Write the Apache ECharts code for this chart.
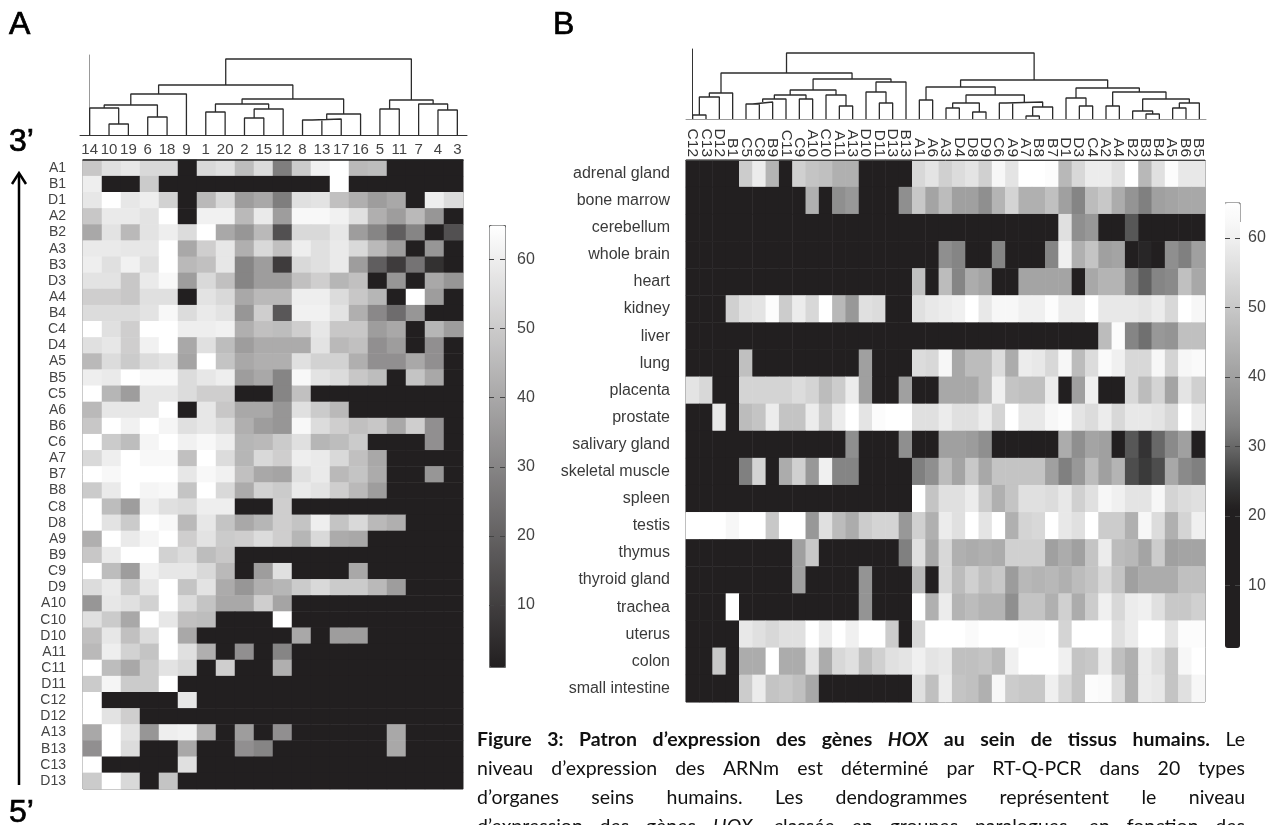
<!DOCTYPE html>
<html><head><meta charset="utf-8">
<style>html,body{margin:0;padding:0;background:#fff;overflow:hidden}#c{width:1279px;height:825px}</style>
<script src="https://cdn.jsdelivr.net/npm/echarts@6/dist/echarts.min.js"></script>
</head><body><div id="c"></div>
<script>
const samplesA=['14','10','19','6','18','9','1','20','2','15','12','8','13','17','16','5','11','7','4','3'];
const genesA=['A1','B1','D1','A2','B2','A3','B3','D3','A4','B4','C4','D4','A5','B5','C5','A6','B6','C6','A7','B7','B8','C8','D8','A9','B9','C9','D9','A10','C10','D10','A11','C11','D11','C12','D12','A13','B13','C13','D13'];
const valuesA=[
[49,56,58,54,54,1,54,56,46,55,28,50,61,65,45,46,1,1,1,1],
[60,1,1,50,1,1,1,1,1,1,1,1,1,65,1,1,1,1,1,1],
[58,65,58,60,52,1,45,54,37,40,28,56,57,47,42,37,40,1,60,55],
[49,59,59,57,65,1,61,61,45,59,37,63,63,61,56,42,37,45,35,1],
[40,57,45,57,60,55,65,40,35,45,15,54,54,58,37,30,19,30,1,15],
[59,59,58,58,65,40,51,58,42,54,47,60,56,59,54,45,37,1,35,1],
[60,56,61,56,65,45,47,58,30,37,9,54,56,59,37,19,9,25,6,1],
[57,57,49,59,63,37,54,47,30,37,37,47,51,44,47,1,35,1,40,35],
[51,51,49,56,56,1,57,54,40,45,45,60,60,55,49,44,1,65,37,1],
[55,55,55,57,63,55,59,57,35,51,17,61,61,57,42,31,23,35,1,1],
[65,56,51,65,65,60,60,61,42,47,46,51,58,49,49,37,40,1,44,37],
[56,58,51,61,65,40,56,46,37,41,41,41,57,45,47,33,37,1,33,1],
[45,55,50,55,57,39,65,48,40,42,42,56,52,52,42,33,33,40,33,1],
[60,59,65,63,63,55,58,60,37,40,30,63,57,55,49,46,1,48,40,1],
[65,44,37,58,58,55,51,51,1,1,30,47,1,1,1,1,1,1,1,1],
[45,58,58,58,65,1,58,49,40,40,35,56,50,45,1,1,1,1,1,1],
[49,65,61,65,62,56,58,55,42,37,35,63,55,51,47,49,40,51,33,1],
[65,50,46,62,65,61,63,60,44,45,50,56,44,46,50,1,1,1,33,1],
[54,60,65,63,63,47,65,55,44,54,51,60,59,54,47,40,1,1,1,1],
[65,63,65,65,65,58,63,61,47,40,39,56,59,45,48,41,1,1,35,1],
[50,59,65,62,63,48,65,54,41,52,50,59,57,51,45,37,1,1,1,1],
[65,46,37,60,56,55,60,60,1,1,51,1,1,1,1,1,1,1,1,1],
[65,57,50,65,63,45,58,48,40,44,51,48,60,48,54,45,42,1,1,1],
[42,65,59,62,65,51,57,50,51,55,51,44,54,41,40,1,1,1,1,1],
[49,59,65,65,52,55,46,49,1,1,1,1,1,1,1,1,1,1,1,1],
[65,46,37,61,58,58,54,45,1,37,56,1,1,1,40,1,1,1,1,1],
[55,59,50,58,65,48,57,41,35,42,44,50,54,50,50,45,37,1,1,1],
[35,58,56,52,65,55,48,40,40,51,39,1,1,1,1,1,1,1,1,1],
[56,50,40,65,58,47,46,1,1,1,65,1,1,1,1,1,1,1,1,1],
[47,58,47,55,65,40,1,1,1,1,1,40,1,37,37,1,1,1,1,1],
[45,60,52,48,65,56,42,1,33,1,30,1,1,1,1,1,1,1,1,1],
[65,46,40,50,57,54,1,51,1,1,42,1,1,1,1,1,1,1,1,1],
[50,62,50,50,65,1,1,1,1,1,1,1,1,1,1,1,1,1,1,1],
[65,1,1,1,1,58,1,1,1,1,1,1,1,1,1,1,1,1,1,1],
[65,57,51,1,1,1,1,1,1,1,1,1,1,1,1,1,1,1,1,1],
[40,65,57,35,60,61,42,1,37,1,33,1,1,1,1,1,40,1,1,1],
[33,65,55,1,1,40,1,1,33,30,1,1,1,1,1,1,40,1,1,1],
[65,1,1,1,1,56,1,1,1,1,1,1,1,1,1,1,1,1,1,1],
[50,65,54,1,48,1,1,1,1,1,1,1,1,1,1,1,1,1,1,1]
];
const genesB=['C12','C13','D12','B1','C5','C8','B9','C11','C9','A10','C10','A11','A13','D10','D11','D13','B13','A1','A6','A3','D4','D8','D9','C6','A9','A7','B8','B7','D1','D3','C4','A2','A4','B2','B3','B4','A5','B6','B5'];
const tissuesB=['adrenal gland','bone marrow','cerebellum','whole brain','heart','kidney','liver','lung','placenta','prostate','salivary gland','skeletal muscle','spleen','testis','thymus','thyroid gland','trachea','uterus','colon','small intestine'];
const valuesB=[
[5,5,5,5,51,59,45,5,52,49,48,44,44,5,5,5,5,54,57,52,55,57,52,62,57,65,65,64,46,54,59,59,56,65,46,56,64,58,58],
[5,5,5,5,5,5,5,5,5,44,5,36,38,5,5,5,36,50,41,47,40,40,36,45,53,44,44,48,40,34,47,50,43,37,33,40,41,42,42],
[5,5,5,5,5,5,5,5,5,5,5,5,5,5,5,5,5,5,5,5,5,5,5,5,5,5,5,5,56,36,38,5,5,28,5,5,5,5,5],
[5,5,5,5,5,5,5,5,5,5,5,5,5,5,5,5,5,5,5,36,34,5,5,34,5,5,5,34,60,44,49,40,41,5,22,5,36,33,40],
[5,5,5,5,5,5,5,5,5,5,5,5,5,5,5,5,5,48,5,47,34,43,41,5,5,41,41,41,41,5,42,45,45,34,29,34,35,48,42],
[5,5,5,52,56,57,64,51,59,54,65,46,38,56,55,5,5,56,58,59,60,65,58,62,62,60,60,64,59,59,65,58,58,58,57,59,54,65,62],
[5,5,5,5,5,5,5,5,5,5,5,5,5,5,5,5,5,5,5,5,5,5,5,5,5,5,5,5,5,5,5,47,64,34,31,38,37,48,48],
[5,5,5,5,48,5,5,5,5,5,5,5,5,40,5,5,5,55,54,62,42,47,47,55,43,59,58,54,62,47,55,63,60,54,54,62,53,62,63],
[57,54,5,5,53,53,53,53,55,53,47,51,59,40,5,5,40,5,5,42,42,42,47,60,49,48,48,59,5,40,60,5,5,54,47,53,41,57,52],
[5,5,58,5,47,49,59,49,49,59,51,59,65,57,64,65,65,56,56,59,56,56,59,53,65,58,58,62,64,57,55,59,54,58,58,57,54,65,59],
[5,5,5,5,5,5,5,5,5,5,5,5,36,5,5,5,36,5,5,40,40,39,36,5,5,5,5,5,43,36,41,40,5,28,24,30,35,40,5],
[5,5,5,5,33,53,5,43,52,38,60,34,34,5,5,5,5,33,36,47,41,50,42,49,49,49,49,40,33,38,47,40,45,27,25,27,42,35,33],
[5,5,5,5,5,5,5,5,5,5,5,5,5,5,5,5,5,65,49,56,56,59,51,44,49,56,56,55,58,52,56,62,60,57,57,62,53,55,56],
[65,65,65,62,65,65,50,65,65,38,56,47,43,51,53,53,38,52,44,59,56,65,57,65,44,53,54,65,58,56,65,51,51,44,62,55,44,53,60],
[5,5,5,5,5,5,5,5,40,50,5,5,5,5,5,5,33,56,42,54,44,43,44,43,52,52,52,40,43,40,49,59,47,46,41,51,40,41,41],
[5,5,5,5,5,5,5,5,40,5,5,5,5,37,5,5,5,46,5,54,47,52,48,50,39,46,45,46,44,47,49,54,49,40,43,43,43,48,48],
[5,5,5,65,5,5,5,5,5,5,5,5,5,37,5,5,5,65,44,59,45,47,45,45,36,49,49,44,52,43,51,60,54,59,60,56,50,50,52],
[5,5,5,5,58,56,54,56,56,65,59,65,60,65,65,51,5,54,65,65,65,63,65,65,65,64,64,65,53,65,65,65,56,59,65,65,57,64,64],
[5,5,50,5,43,43,65,43,43,57,43,54,56,48,52,56,57,60,57,58,48,48,49,46,60,65,65,65,60,49,50,59,48,44,59,56,49,62,65],
[5,5,5,5,51,59,49,50,48,42,5,5,5,5,5,5,5,56,48,59,49,48,44,62,51,50,50,60,54,49,64,63,55,44,59,58,49,56,62]
];
// Dendrograms: node = [merge height, left, right]; a leaf is a column index.
const treeA=[76,[50,[41,[30,[27,0,[11,1,2]],[18,3,4]],5],[36,[31,[23,6,7],[26,[17,8,9],10]],[21,[16,[15,11,12],13],14]]],[35,[26,15,16],[31,17,[25,18,19]]]];
const treeB=[66,[46,[26,[22,[4,0,1],2],3],[40,[29,[24,[20,[17,[15,4,5],6],7],[20,8,9]],[24,10,[13,11,12]]],[37,[27,13,[16,14,15]],16]]],[39,[32,[19,17,18],[24,[16,[11,19,20],[7,21,22]],[17,[16,23,24],[12,[3,25,26],27]]]],[31,[21,28,[13,29,30]],[27,[13,31,32],[20,[8,33,[5,34,35]],[16,[11,36,37],38]]]]]];
const captionLines=[
 [['Figure 3: Patron d’expression des gènes','b'],['HOX','bi'],['au sein de tissus humains.','b'],['Le','r']],
 [['niveau d’expression des ARNm est déterminé par RT-Q-PCR dans 20 types','r']],
 [['d’organes seins humains. Les dendogrammes représentent le niveau','r']],
 [['d’expression des gènes','r'],['HOX,','i'],['classée en groupes paralogues, en fonction des','r']]
];

const FONT='"Liberation Sans",Arial,sans-serif';
function cells(m){const o=[];m.forEach((r,y)=>r.forEach((v,x)=>o.push([x,y,v])));return o;}
function dendro(tree){
  const pts=[];
  (function walk(n){
    if(typeof n==='number')return {x:n,y:0};
    const a=walk(n[1]),b=walk(n[2]),h=n[0];
    pts.push([a.x,a.y],[a.x,h],[b.x,h],[b.x,b.y],[NaN,NaN]);
    return {x:(a.x+b.x)/2,y:h};
  })(tree);
  return pts;
}
function dendroSeries(tree,ix,iy){return {type:'line',xAxisIndex:ix,yAxisIndex:iy,data:dendro(tree),symbol:'none',silent:true,connectNulls:false,lineStyle:{color:'#2c2c2c',width:1.3}};}
function barAxis(grid,pos,margin){return {type:'value',gridIndex:grid,position:pos,min:10,max:60,interval:10,z:10,
  axisLine:{show:false},splitLine:{show:false},axisTick:{show:true,inside:true,length:5,lineStyle:{color:'#444',width:1}},
  axisLabel:{show:pos==='right',margin:margin,fontFamily:FONT,fontSize:16,color:'#444'}};}

const mctx=document.createElement('canvas').getContext('2d');
const capLeft=477,capRight=1245,capTop=740,capLead=28.8,capSize=19.5;
function capFont(k){return (k==='i'||k==='bi'?'italic ':'')+(k==='b'||k==='bi'?'bold ':'')+capSize+'px Lato';}
const capEls=[];
captionLines.forEach((line,li)=>{
  const words=[];
  line.forEach(([t,k])=>t.split(' ').forEach(w=>words.push([w,k])));
  let total=0;words.forEach(w=>{mctx.font=capFont(w[1]);w[2]=mctx.measureText(w[0]).width;total+=w[2];});
  const gap=(capRight-capLeft-total)/(words.length-1);
  let x=capLeft;
  words.forEach(w=>{capEls.push({type:'text',x:x,y:capTop+li*capLead,style:{text:w[0],font:capFont(w[1]),fill:'#111',textAlign:'left',textVerticalAlign:'middle'}});x+=w[2]+gap;});
});
function bigText(t,x,y){return {type:'text',x:x,y:y,style:{text:t,font:'32px '+FONT,fill:'#000',stroke:'#000',lineWidth:0.7,textAlign:'left',textVerticalAlign:'middle'}};}

const gridA={left:83,top:160,width:380,height:629,show:true,borderColor:'#777',borderWidth:1};
const gridB={left:686,top:160,width:519,height:542,show:true,borderColor:'#555',borderWidth:1};
const option={
 animation:false,backgroundColor:'#fff',
 grid:[gridA,gridB,
  {left:80,top:55,width:387,height:80},
  {left:686,top:49,width:520,height:70},
  {left:489,top:259.5,width:16,height:345.5},
  {left:1225,top:237.8,width:15,height:347.6}],
 xAxis:[
  {type:'category',gridIndex:0,data:samplesA,position:'top',z:5,axisLine:{show:true,lineStyle:{color:'#222',width:1.5}},axisTick:{show:false},axisLabel:{show:false},splitLine:{show:false}},
  {type:'category',gridIndex:1,data:genesB,position:'top',z:5,axisLine:{show:true,lineStyle:{color:'#444',width:1}},axisTick:{show:false},splitLine:{show:false},
   axisLabel:{interval:0,rotate:90,margin:3,fontFamily:FONT,fontSize:15.5,color:'#333'}},
  {type:'category',gridIndex:2,data:samplesA,position:'bottom',axisLine:{show:true,onZero:false,lineStyle:{color:'#333',width:1}},axisTick:{show:false},splitLine:{show:false},
   axisLabel:{interval:0,margin:7,fontFamily:FONT,fontSize:15,color:'#444'}},
  {type:'value',gridIndex:2,show:false,min:-0.5,max:19.5},
  {type:'value',gridIndex:3,min:-0.5,max:38.5,axisLine:{show:true,onZero:false,lineStyle:{color:'#999',width:1}},axisTick:{show:false},axisLabel:{show:false},splitLine:{show:false},position:'bottom'},
  {type:'value',gridIndex:4,show:false,min:0,max:1},
  {type:'value',gridIndex:5,show:false,min:0,max:1}
 ],
 yAxis:[
  {type:'category',gridIndex:0,data:genesA,inverse:true,axisLine:{show:false},axisTick:{show:false},splitLine:{show:false},
   axisLabel:{interval:0,margin:17,fontFamily:FONT,fontSize:14,color:'#444'}},
  {type:'category',gridIndex:1,data:tissuesB,inverse:true,axisLine:{show:false},axisTick:{show:false},splitLine:{show:false},
   axisLabel:{interval:0,margin:16,fontFamily:FONT,fontSize:16,color:'#3a3a3a'}},
  {type:'value',gridIndex:2,min:0,max:80,axisLine:{show:true,lineStyle:{color:'#999',width:1}},axisTick:{show:false},axisLabel:{show:false},splitLine:{show:false}},
  {type:'value',gridIndex:3,min:0,max:70,axisLine:{show:true,lineStyle:{color:'#333',width:1}},axisTick:{show:false},axisLabel:{show:false},splitLine:{show:false}},
  barAxis(4,'left',0),barAxis(4,'right',12),
  barAxis(5,'left',0),barAxis(5,'right',8)
 ],
 visualMap:[
  {seriesIndex:0,type:'continuous',min:1,max:65,left:489,top:225,itemWidth:16,itemHeight:442,padding:0,text:['',''],textGap:0,calculable:false,hoverLink:false,
   borderColor:'#666',borderWidth:1,inRange:{color:['#221f20','#ffffff']}},
  {seriesIndex:1,type:'continuous',min:1,max:65,left:1225,top:203,itemWidth:15,itemHeight:445,padding:0,text:['',''],textGap:0,calculable:false,hoverLink:false,
   inRange:{color:['#221f20','#221f20','#221f20','#221f20','#221f20','#221f20','#3a3a3a','#606060','#808080','#949494','#a4a4a4','#b4b4b4','#c4c4c4','#d4d4d4','#e4e4e4','#f4f4f4','#ffffff']}}
 ],
 series:[
  {type:'heatmap',xAxisIndex:0,yAxisIndex:0,data:cells(valuesA),silent:true,progressive:0},
  {type:'heatmap',xAxisIndex:1,yAxisIndex:1,data:cells(valuesB),silent:true,progressive:0},
  dendroSeries(treeA,3,2),
  dendroSeries(treeB,4,3)
 ],
 graphic:{elements:[
  bigText('A',9,25),bigText('B',553,25),bigText('3’',9,142),bigText('5’',9,813),
  {type:'line',shape:{x1:19,y1:174,x2:19,y2:785},style:{stroke:'#000',lineWidth:2.5}},
  {type:'polyline',shape:{points:[[12,184],[19,173],[26,184]]},style:{stroke:'#000',lineWidth:2.5,fill:null}},
  {type:'polyline',shape:{points:[[1225,203],[1240,203],[1240,222]]},style:{stroke:'#555',lineWidth:1,fill:null}},
  ...capEls
 ]}
};
const chart=echarts.init(document.getElementById('c'),null,{renderer:'canvas'});
chart.setOption(option);
</script></body></html>
